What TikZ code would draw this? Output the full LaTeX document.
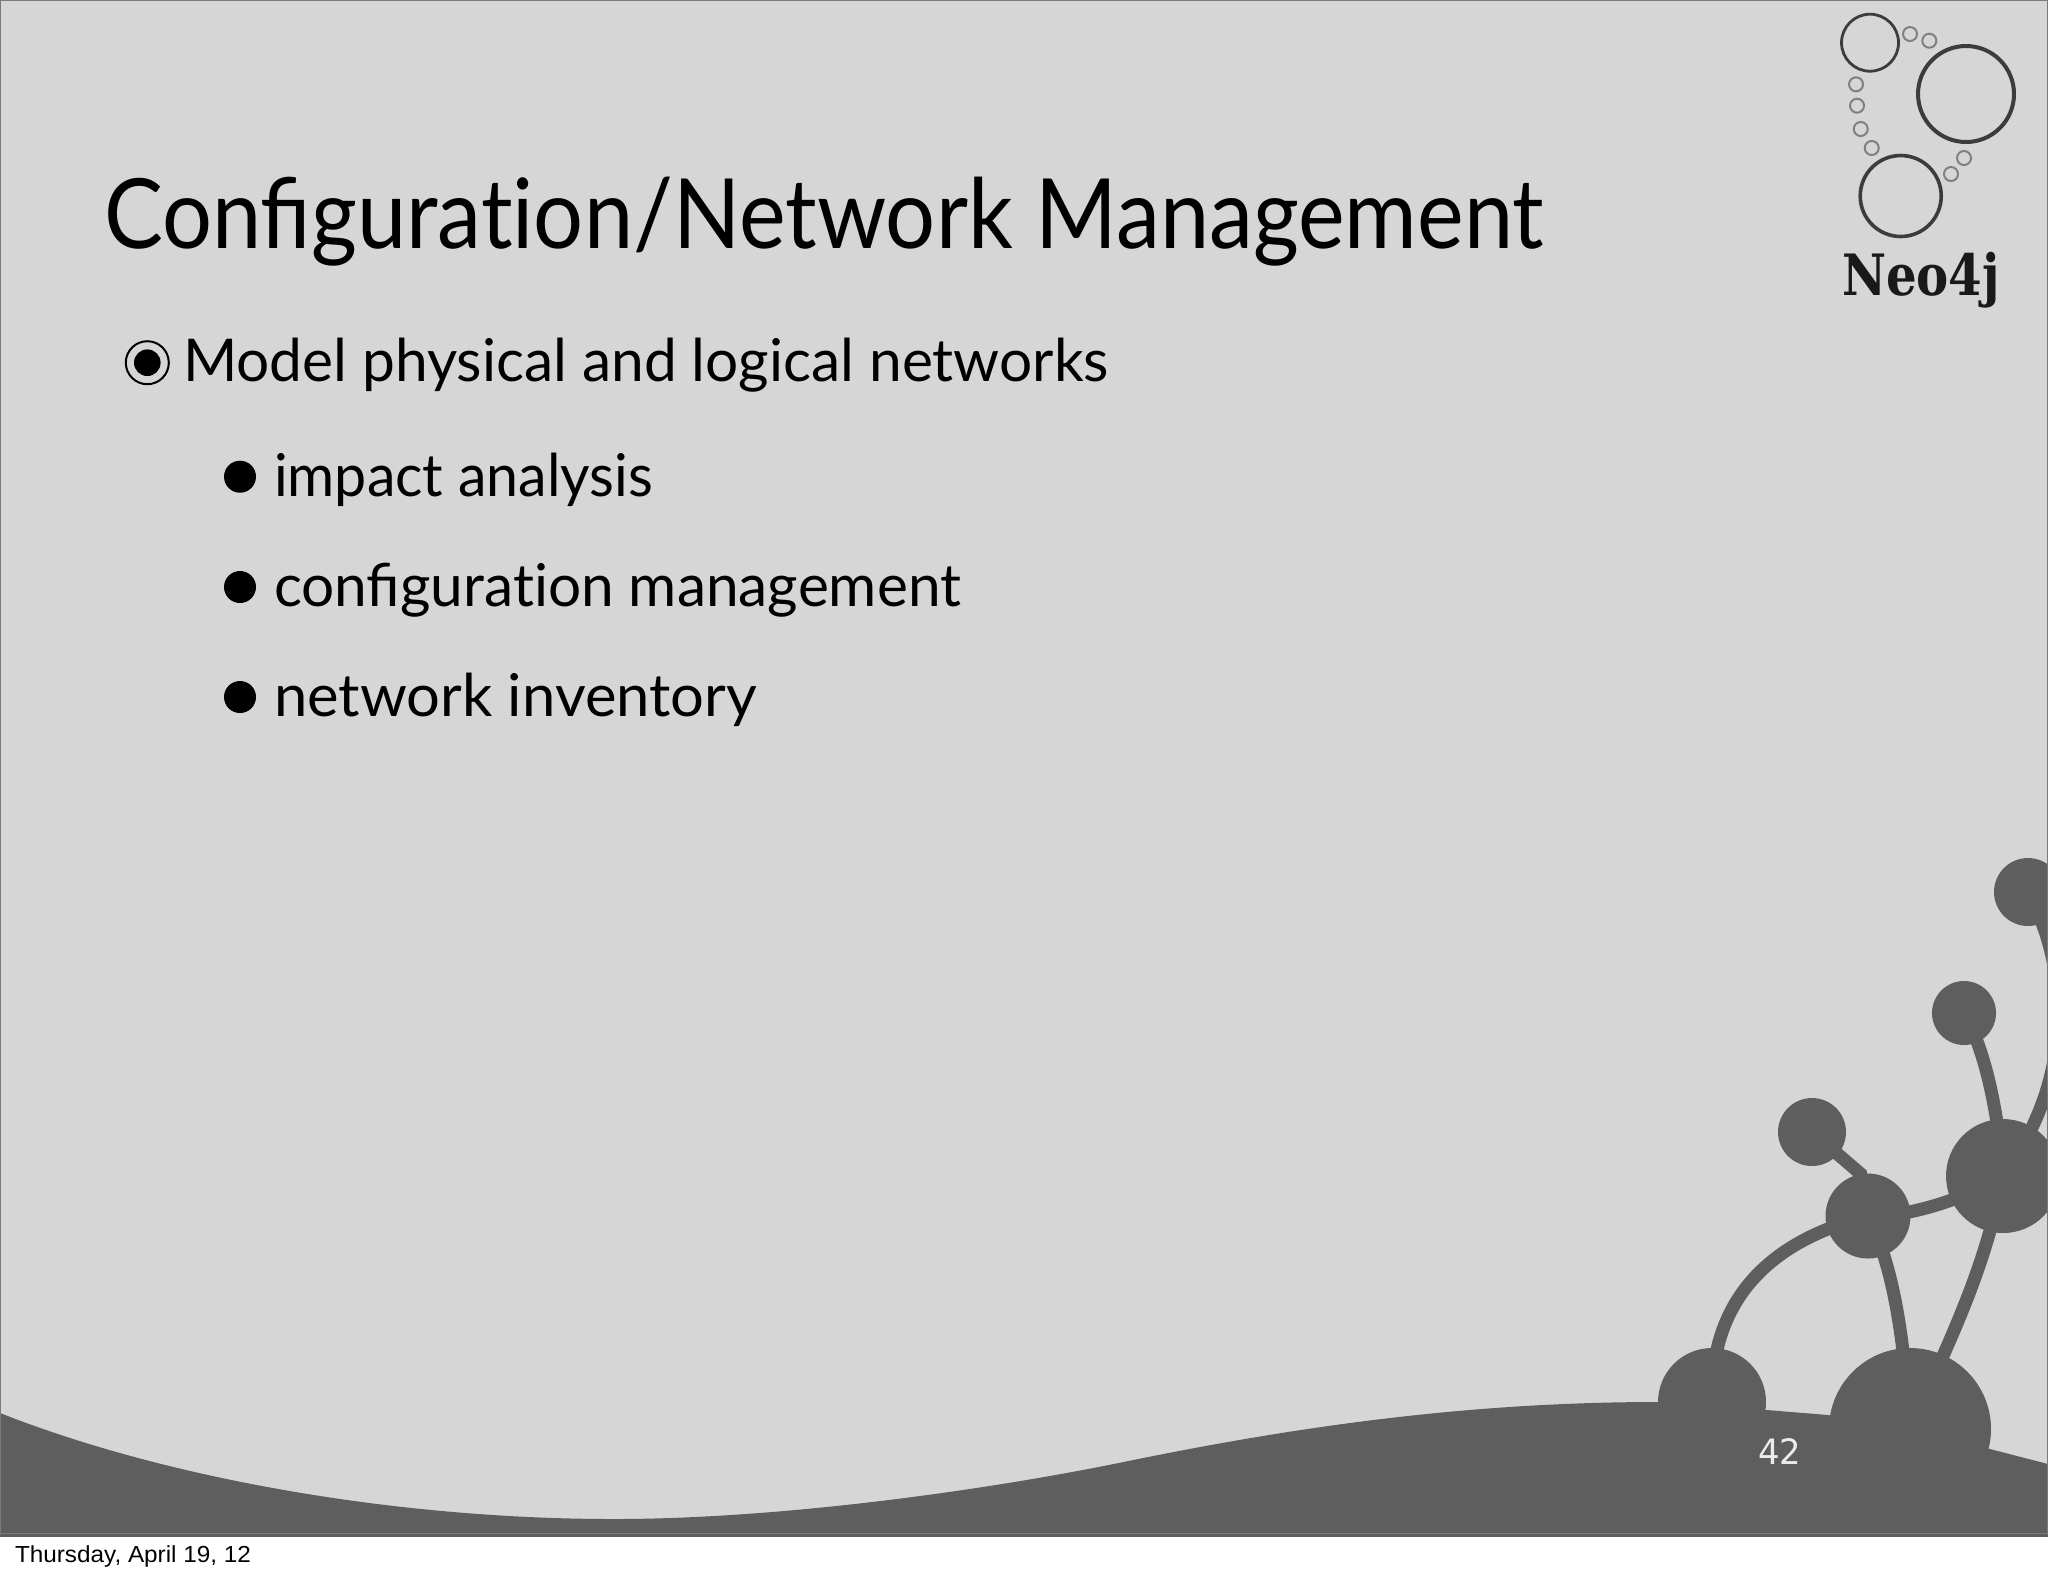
\documentclass[tikz,border=0pt]{standalone}
\usepackage{fontspec}
\usepackage{graphicx}
\setmainfont{Lato}
\newfontfamily\datefont{Liberation Sans}
\newfontfamily\numfont{DejaVu Sans}
\newfontfamily\logofont{DejaVu Serif}
\definecolor{slidebg}{HTML}{D6D6D6}
\definecolor{inkdark}{HTML}{5E5E5E}
\definecolor{edgegray}{HTML}{7A7A7A}
\definecolor{ringgray}{HTML}{808080}
\definecolor{logoring}{HTML}{3C3C3C}
\newcommand{\fitw}[2]{\resizebox{#1pt}{\height}{#2}}
\tikzset{
  x=0.5pt,y=-0.5pt,
  blob/.style={circle,fill=inkdark,draw=none,inner sep=0pt,minimum size=#1*1pt},
  link/.style={draw=inkdark,line width=6.5pt},
  txt/.style={anchor=base west,inner sep=0pt,outer sep=0pt,text=black},
  bigring/.style={circle,draw=logoring,fill=none,inner sep=0pt,line width=#1},
  smallring/.style={circle,draw=ringgray,fill=none,inner sep=0pt,line width=1pt,minimum size=7pt},
  dot/.style={circle,fill=black,inner sep=0pt,minimum size=16pt}
}
\begin{document}
\begin{tikzpicture}
\useasboundingbox (0,0) rectangle (2048,1576);
\fill[white] (0,0) rectangle (2048,1576);
\begin{scope}
\clip (0,0) rectangle (2048,1536);
\fill[slidebg] (0,0) rectangle (2048,1536);
\fill[inkdark] (0,1413) .. controls (170,1480) and (400,1519) .. (614,1519)
  .. controls (780,1519) and (985,1490.5) .. (1126,1461.5)
  .. controls (1270,1432) and (1450,1402) .. (1657,1402)
  -- (1767,1410) -- (1828,1415) -- (1990,1449) -- (2048,1464) -- (2048,1536) -- (0,1536) -- cycle;
\node[blob=34] (n1) at (2028,892) {};
\node[blob=32] (n2) at (1964,1013) {};
\node[blob=34] (n3) at (1812,1132) {};
\node[blob=42.5] (n4) at (1868,1216) {};
\node[blob=57] (n5) at (2003,1176) {};
\node[blob=54] (n6) at (1712,1402) {};
\node[blob=81] (n7) at (1910,1429) {};
\draw[link] (n3.center) -- (n4.100) -- (n4.center);
\draw[link] (n4.center) .. controls (1900,1218) and (1960,1202) .. (n5.center);
\draw[link] (n4.center) .. controls (1758,1244) and (1710,1310) .. (n6.center);
\draw[link] (n4.center) .. controls (1890,1260) and (1903,1320) .. (n7.center);
\draw[link] (n5.center) .. controls (1985,1270) and (1950,1340) .. (n7.center);
\draw[link] (n2.center) .. controls (1985,1050) and (1998,1110) .. (n5.center);
\draw[link] (n1.center) .. controls (2065,960) and (2080,1070) .. (n5.center);
\end{scope}
\draw[edgegray,line width=1pt] (0,1536) -- (0,0) -- (2048,0) -- (2048,1536);
\draw[edgegray,line width=0.8pt] (0,1533.5) -- (2048,1533.5);
\draw[inkdark,line width=0.8pt] (0,1536) -- (2048,1536);
% logo
\node[bigring=1.4pt,minimum size=28.5pt] (l1) at (1870,42.7) {};
\node[bigring=2pt,minimum size=48pt] (l2) at (1966,94) {};
\node[bigring=1.8pt,minimum size=40.5pt] (l3) at (1900.7,196) {};
\node[smallring] (s1) at (1910,34) {};
\node[smallring] (s2) at (1929.3,40.7) {};
\node[smallring] (s3) at (1856,84.3) {};
\node[smallring] (s4) at (1857,105.7) {};
\node[smallring] (s5) at (1860.7,129) {};
\node[smallring] (s6) at (1871.7,148) {};
\node[smallring] (s7) at (1964,158) {};
\node[smallring] (s8) at (1951,174) {};
\node[txt,text=black!90] (logo) at (1842,295) {\fitw{79}{\logofont\bfseries\fontsize{28.5pt}{30pt}\selectfont Neo4j}};
% texts
\node[txt] (title) at (104,248) {\fitw{720}{\fontsize{48.5pt}{55pt}\selectfont Configurat\kern0pt ion/Network Management}};
\node[circle,draw=black,line width=1pt,fill=none,inner sep=0pt,minimum size=21.5pt] (b0o) at (147.3,362.7) {};
\node[circle,fill=black,inner sep=0pt,minimum size=13.3pt] (b0i) at (b0o.center) {};
\node[txt] (t0) at (183,381) {\fitw{463}{\fontsize{29.5pt}{34pt}\selectfont Model physical and logical networks}};
\node[dot] (b1) at (240,476.7) {};
\node[txt] (t1) at (274,496.7) {\fitw{189.5}{\fontsize{29.5pt}{34pt}\selectfont impact analysis}};
\node[dot] (b2) at (240,587) {};
\node[txt] (t2) at (274,606.7) {\fitw{343.5}{\fontsize{29.5pt}{34pt}\selectfont configurat\kern0pt ion management}};
\node[dot] (b3) at (240,697) {};
\node[txt] (t3) at (274,716.7) {\fitw{241.5}{\fontsize{29.5pt}{34pt}\selectfont network inventory}};
\node[txt,text=white!92!black] (num) at (1758,1464) {\fitw{21.5}{\numfont\fontsize{17.5pt}{20pt}\selectfont 42}};
\node[txt] (date) at (15,1562) {\fitw{118}{\datefont\fontsize{11.6pt}{14pt}\selectfont Thursday, April 19, 12}};
\end{tikzpicture}
\end{document}
